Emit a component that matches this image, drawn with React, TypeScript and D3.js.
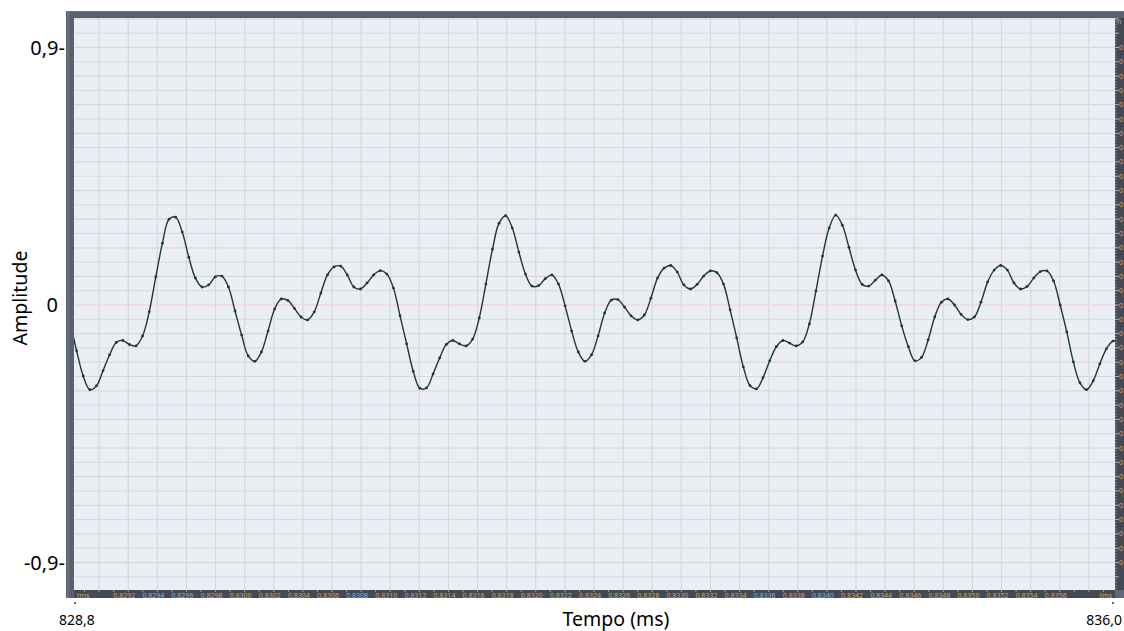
import React from 'react';
import * as d3 from 'd3';

// ---- data ----
const START_MS = 828.8;
const END_MS = 836.0;
const SAMPLE_RATE_KHZ = 22.05;

const amplitude: number[] = [
  -0.056, -0.160, -0.248, -0.296, -0.283, -0.230, -0.174, -0.131, -0.124, -0.138,
  -0.143, -0.108, -0.024, 0.098, 0.216, 0.300, 0.307, 0.255, 0.167, 0.094,
  0.063, 0.070, 0.098, 0.101, 0.063, -0.021, -0.105, -0.178, -0.197, -0.164,
  -0.091, -0.014, 0.021, 0.016, -0.012, -0.042, -0.052, -0.024, 0.042, 0.105,
  0.133, 0.136, 0.105, 0.063, 0.056, 0.077, 0.105, 0.120, 0.108, 0.059,
  -0.038, -0.136, -0.232, -0.291, -0.290, -0.241, -0.185, -0.138, -0.124, -0.136,
  -0.143, -0.119, -0.045, 0.073, 0.195, 0.286, 0.312, 0.269, 0.185, 0.108,
  0.066, 0.068, 0.092, 0.105, 0.073, -0.003, -0.091, -0.164, -0.197, -0.174,
  -0.108, -0.028, 0.017, 0.019, -0.007, -0.038, -0.052, -0.035, 0.024, 0.094,
  0.129, 0.138, 0.115, 0.070, 0.056, 0.072, 0.101, 0.119, 0.113, 0.073,
  -0.017, -0.115, -0.216, -0.281, -0.293, -0.253, -0.195, -0.146, -0.124, -0.133,
  -0.143, -0.129, -0.066, 0.049, 0.171, 0.269, 0.314, 0.279, 0.202, 0.122,
  0.072, 0.066, 0.087, 0.105, 0.084, 0.014, -0.073, -0.146, -0.195, -0.183,
  -0.122, -0.042, 0.010, 0.021, 0.000, -0.033, -0.051, -0.042, 0.010, 0.080,
  0.122, 0.138, 0.122, 0.077, 0.056, 0.065, 0.094, 0.117, 0.119, 0.084,
  0.000, -0.094, -0.199, -0.272, -0.296, -0.265, -0.206, -0.153, -0.126, -0.129,
];

const yTicks = [0.9, 0, -0.9];
const yTickLabels = ['0,9-', '0', '-0,9-'];
const xEndLabels = ['828,8', '836,0'];
const stripLabels = [
  '0.8292', '0.8294', '0.8296', '0.8298', '0.8300', '0.8302', '0.8304', '0.8306',
  '0.8308', '0.8310', '0.8312', '0.8314', '0.8316', '0.8318', '0.8320', '0.8322',
  '0.8324', '0.8326', '0.8328', '0.8330', '0.8332', '0.8334', '0.8336', '0.8338',
  '0.8340', '0.8342', '0.8344', '0.8346', '0.8348', '0.8350', '0.8352', '0.8354',
  '0.8356',
];
const blueStripLabels = ['0.8294', '0.8296', '0.8308', '0.8336', '0.8340'];
const xTitle = 'Tempo (ms)';
const yTitle = 'Amplitude';

// ---- layout ----
const W = 1124;
const H = 631;
const PL = 74, PR = 1115, PT = 18, PB = 590;

export default function App() {
  const x = d3.scaleLinear().domain([START_MS, END_MS]).range([70, 1118]);
  const y = d3.scaleLinear().domain([-0.9, 0.9]).range([562.5, 47.5]);

  const pts = amplitude.map((a, i) => [START_MS + i / SAMPLE_RATE_KHZ, a] as [number, number]);
  const line = d3
    .line<[number, number]>()
    .x((d) => x(d[0]))
    .y((d) => y(d[1]))
    .curve(d3.curveCatmullRom.alpha(0.5));

  const hGrid = d3.range(-20, 21).map((k) => k * 0.05);
  const hLabels = d3.range(-18, 19).map((k) => k * 0.05);
  const hMinor = d3.range(-100, 101).map((k) => k * 0.01);
  const vGrid = d3.range(1, 36).map((k) => START_MS + 0.2 * k);
  const vMinor = d3.range(1, 72).map((k) => START_MS + 0.1 * k);

  const font = "'Noto Sans', 'Open Sans', sans-serif";

  return (
    <svg
      width={W}
      height={H}
      viewBox={`0 0 ${W} ${H}`}
      style={{ position: 'absolute', left: 0, top: 0, background: '#ffffff' }}
    >
      <defs>
        <clipPath id="plotClip">
          <rect x={PL} y={PT} width={PR - PL} height={PB - PT} />
        </clipPath>
        <clipPath id="rightClip">
          <rect x={PR} y={PT} width={W - PR} height={PB - PT} />
        </clipPath>
        <clipPath id="bottomClip">
          <rect x={PL} y={PB} width={PR - PL} height={8} />
        </clipPath>
      </defs>

      {/* frame */}
      <rect x={66} y={11} width={W - 66} height={598 - 11} fill="#59616e" />
      <rect x={67} y={12} width={2} height={586} fill="#6b7381" />
      <rect x={66} y={11} width={W - 66} height={1} fill="#6b7381" />
      <rect x={PL} y={PT} width={PR - PL} height={PB - PT} fill="#eceef5" />

      {/* grid */}
      <g clipPath="url(#plotClip)">
        {vGrid.map((t, i) => (
          <line key={'v' + i} x1={x(t)} x2={x(t)} y1={PT} y2={PB} stroke="#d4dadc" strokeWidth={1.2} />
        ))}
        {hGrid.map((v, i) => (
          <line
            key={'h' + i}
            x1={PL}
            x2={PR}
            y1={y(v)}
            y2={y(v)}
            stroke={v === 0 ? '#f0d6de' : '#d4dadc'}
            strokeWidth={i % 2 === 0 ? 1.3 : 1}
          />
        ))}
        <path d={line(pts) || ''} fill="none" stroke="#1d3a2e" strokeWidth={1.4} />
        {pts.map((p, i) => (
          <circle key={'c' + i} cx={x(p[0])} cy={y(p[1])} r={1.4} fill="#1d3a2e" />
        ))}
      </g>

      {/* right strip */}
      <rect x={PR} y={PT} width={W - PR} height={PB - PT} fill="#434955" />
      <g clipPath="url(#rightClip)">
        {hMinor.map((v, i) => (
          <line key={'rm' + i} x1={PR} x2={PR + 2} y1={y(v)} y2={y(v)} stroke="#9aa0aa" strokeWidth={0.7} />
        ))}
        {hGrid.map((v, i) => (
          <line key={'rt' + i} x1={PR} x2={PR + 4} y1={y(v)} y2={y(v)} stroke="#c0c4ca" strokeWidth={0.8} />
        ))}
        {hLabels.map((v, i) => (
          <text key={'rl' + i} x={PR + 4} y={y(v) + 2.5} fontSize={7} fill="#d2a65c" fontFamily={font}>
            0
          </text>
        ))}
        <text x={PR + 2} y={PT + 6} fontSize={7} fill="#d2a65c" fontFamily={font}>
          n
        </text>
      </g>

      {/* bottom strip */}
      <rect x={PL} y={PB} width={PR - PL} height={8} fill="#434955" />
      <rect x={PR} y={PB} width={W - PR} height={8} fill="#5d6a7c" />
      <g clipPath="url(#bottomClip)">
        {vMinor.map((t, i) => (
          <line key={'bm' + i} x1={x(t)} x2={x(t)} y1={PB} y2={PB + 2} stroke="#c0c4ca" strokeWidth={0.7} />
        ))}
        {stripLabels.map((s) => (
          <text
            key={s}
            x={x(parseFloat(s) * 1000) - 4}
            y={PB + 8}
            fontSize={7}
            textAnchor="middle"
            fill={blueStripLabels.includes(s) ? '#7fb4e6' : '#d2a65c'}
            fontFamily={font}
          >
            {s}
          </text>
        ))}
        <text x={PL + 3} y={PB + 8} fontSize={7} fill="#d2a65c" fontFamily={font}>
          tms
        </text>
        <text x={PR - 3} y={PB + 8} fontSize={7} textAnchor="end" fill="#d2a65c" fontFamily={font}>
          tms
        </text>
      </g>

      {/* y tick labels */}
      {yTicks.map((v, i) => (
        <text
          key={'yt' + i}
          x={v === 0 ? 58 : 65}
          y={y(v)}
          dy="0.35em"
          fontSize={20}
          textAnchor="end"
          fill="#000"
          fontFamily={font}
        >
          {yTickLabels[i]}
        </text>
      ))}

      {/* x end labels */}
      <circle cx={75} cy={603} r={1} fill="#333" />
      <circle cx={1113} cy={603} r={1} fill="#333" />
      <text x={77} y={625} fontSize={14} textAnchor="middle" fill="#000" fontFamily={font}>
        {xEndLabels[0]}
      </text>
      <text x={1122} y={625} fontSize={14} textAnchor="end" fill="#000" fontFamily={font}>
        {xEndLabels[1]}
      </text>

      {/* titles */}
      <text x={616} y={626} fontSize={19.5} textAnchor="middle" fill="#000" fontFamily={font}>
        {xTitle}
      </text>
      <text
        transform="translate(27,298) rotate(-90)"
        fontSize={19.5}
        textAnchor="middle"
        fill="#000"
        fontFamily={font}
      >
        {yTitle}
      </text>
    </svg>
  );
}
